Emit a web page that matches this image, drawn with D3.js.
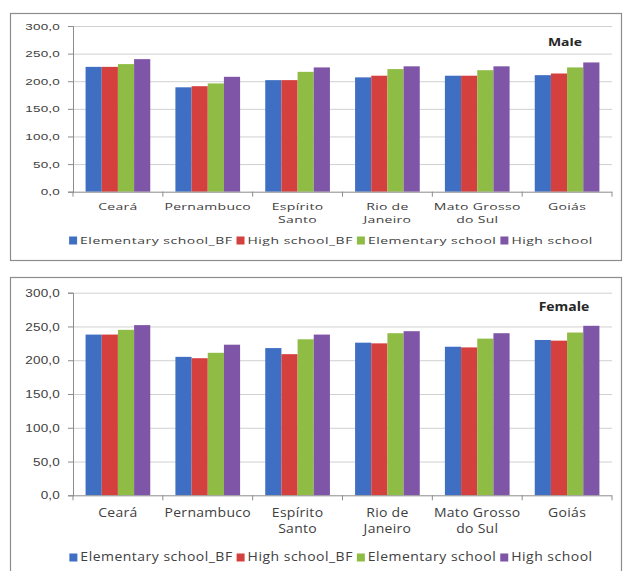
<!DOCTYPE html>
<html>
<head>
<meta charset="utf-8">
<script src="https://cdn.jsdelivr.net/npm/d3@7/dist/d3.min.js"></script>
<style>
  html, body { margin: 0; padding: 0; background: #fff; }
  svg { display: block; font-family: "Open Sans", "Noto Sans", sans-serif; }
</style>
</head>
<body>
<svg id="chart" width="625" height="571"></svg>
<script>
// States on the horizontal axis, with their wrapped label lines
const states = ["Ceará", "Pernambuco", "Espírito Santo", "Rio de Janeiro", "Mato Grosso do Sul", "Goiás"];
const stateLines = [["Ceará"], ["Pernambuco"], ["Espírito", "Santo"], ["Rio de", "Janeiro"], ["Mato Grosso", "do Sul"], ["Goiás"]];

// Series names (legend order)
const seriesNames = ["Elementary school_BF", "High school_BF", "Elementary school", "High school"];
const seriesColors = ["#3f6fc3", "#d4403e", "#8fbc45", "#7f55a7"];

// Male scores
const maleElementaryBF = [226, 189, 202, 207, 210, 211];
const maleHighBF       = [226, 191, 202, 210, 210, 214];
const maleElementary   = [231, 196, 217, 222, 220, 225];
const maleHigh         = [240, 208, 225, 227, 227, 234];

// Female scores
const femaleElementaryBF = [238, 205, 218, 226, 220, 230];
const femaleHighBF       = [238, 203, 209, 225, 219, 229];
const femaleElementary   = [245, 211, 231, 240, 232, 241];
const femaleHigh         = [252, 223, 238, 243, 240, 251];

// Value axis ticks
const yTicks = [0, 50, 100, 150, 200, 250, 300];
const yMax = 300;

const svg = d3.select("#chart");
const fmt = v => d3.format(".1f")(v).replace(".", ",");
const textColor = "#404040";

function drawPanel(cfg) {
  const g = svg.append("g");
  const series = cfg.values;
  const sy = cfg.textScale; // vertical squeeze of the panel's lettering

  // outer frame
  g.append("rect")
    .attr("x", cfg.frame[0] + 0.5).attr("y", cfg.frame[1] + 0.5)
    .attr("width", cfg.frame[2]).attr("height", cfg.frame[3])
    .attr("fill", "#fff").attr("stroke", "#8c8c8c").attr("stroke-width", 1.2);

  const x = d3.scaleBand().domain(states).range([cfg.left, cfg.right])
    .paddingInner(0.28).paddingOuter(0.14);
  const xs = d3.scaleBand().domain(d3.range(seriesNames.length)).range([0, x.bandwidth()]);
  const y = d3.scaleLinear().domain([0, yMax]).range([cfg.bottom, cfg.top]);

  // gridlines
  g.append("g")
    .attr("transform", `translate(${cfg.left},0)`)
    .call(d3.axisLeft(y).tickValues(yTicks.slice(1)).tickSize(-(cfg.right - cfg.left)).tickFormat(""))
    .call(a => a.select(".domain").remove())
    .call(a => a.selectAll("line").attr("stroke", "#d0d0d0").attr("stroke-width", 1));

  // bars
  const groups = g.append("g").selectAll("g").data(states).join("g")
    .attr("transform", d => `translate(${x(d)},0)`);
  groups.selectAll("rect")
    .data((d, i) => series.map((s, k) => ({ k, v: s[i] })))
    .join("rect")
    .attr("x", d => xs(d.k))
    .attr("width", xs.bandwidth())
    .attr("y", d => y(d.v))
    .attr("height", d => y(0) - y(d.v))
    .attr("fill", d => seriesColors[d.k]);

  // value axis
  const ya = g.append("g")
    .attr("transform", `translate(${cfg.left},0)`)
    .call(d3.axisLeft(y).tickValues(yTicks).tickSize(5).tickPadding(8).tickFormat(fmt));
  ya.select(".domain").attr("stroke", "#8c8c8c");
  ya.selectAll("line").attr("stroke", "#8c8c8c");
  ya.selectAll("text").attr("fill", textColor).style("font-size", "13.5px")
    .style("letter-spacing", "0.2px")
    .attr("transform", `scale(1,${sy})`);

  // category axis line with ticks between groups
  const step = x.step();
  g.append("line")
    .attr("x1", cfg.left).attr("x2", cfg.right)
    .attr("y1", cfg.bottom + 0.5).attr("y2", cfg.bottom + 0.5)
    .attr("stroke", "#8c8c8c");
  g.append("g").selectAll("line").data(d3.range(states.length + 1)).join("line")
    .attr("x1", i => cfg.left + i * step).attr("x2", i => cfg.left + i * step)
    .attr("y1", cfg.bottom).attr("y2", cfg.bottom + 5)
    .attr("stroke", "#8c8c8c");

  // category labels, one text per line
  const labelData = [];
  states.forEach((s, i) => stateLines[i].forEach((line, j) => labelData.push({ s, line, j })));
  g.append("g").selectAll("text").data(labelData).join("text")
    .attr("transform", d =>
      `translate(${x(d.s) + x.bandwidth() / 2},${cfg.bottom + cfg.labelOffset + d.j * cfg.lineGap}) scale(1,${sy})`)
    .attr("text-anchor", "middle")
    .attr("fill", textColor)
    .style("font-size", "14px")
    .style("letter-spacing", "0.3px")
    .text(d => d.line);

  // panel title
  g.append("text")
    .attr("transform", `translate(${cfg.titleX},${cfg.titleY}) scale(1,${sy})`)
    .attr("text-anchor", "middle")
    .attr("fill", "#262626")
    .style("font-size", "14px").style("font-weight", "bold")
    .text(cfg.title);

  // legend
  const leg = g.append("g").attr("transform", `translate(0,${cfg.legendY})`);
  const items = leg.selectAll("g").data(seriesNames).join("g");
  items.append("rect").attr("width", 8).attr("height", 8).attr("y", -7.5)
    .attr("fill", (d, i) => seriesColors[i]);
  items.append("text").attr("x", 11).attr("y", 0)
    .attr("transform", `scale(1,${sy})`)
    .attr("fill", textColor).style("font-size", "14px")
    .style("letter-spacing", "0.5px")
    .text(d => d);
  const widths = [];
  items.each(function () {
    widths.push(d3.select(this).select("text").node().getComputedTextLength() + 11);
  });
  const gap = 4;
  const total = d3.sum(widths) + gap * (widths.length - 1);
  let cx = cfg.legendCenter - total / 2;
  items.attr("transform", (d, i) => {
    const t = `translate(${cx},0)`;
    cx += widths[i] + gap;
    return t;
  });
}

drawPanel({
  frame: [10, 13, 611, 247],
  left: 73, right: 612, top: 26, bottom: 191.7,
  labelOffset: 18, lineGap: 13.5, textScale: 0.7,
  title: "Male", titleX: 565, titleY: 46,
  legendY: 244, legendCenter: 331,
  values: [maleElementaryBF, maleHighBF, maleElementary, maleHigh]
});

drawPanel({
  frame: [10, 277, 611, 300],
  left: 73, right: 612, top: 292.7, bottom: 495.3,
  labelOffset: 21.5, lineGap: 16, textScale: 0.84,
  title: "Female", titleX: 564, titleY: 311,
  legendY: 561, legendCenter: 331,
  values: [femaleElementaryBF, femaleHighBF, femaleElementary, femaleHigh]
});
</script>
</body>
</html>
